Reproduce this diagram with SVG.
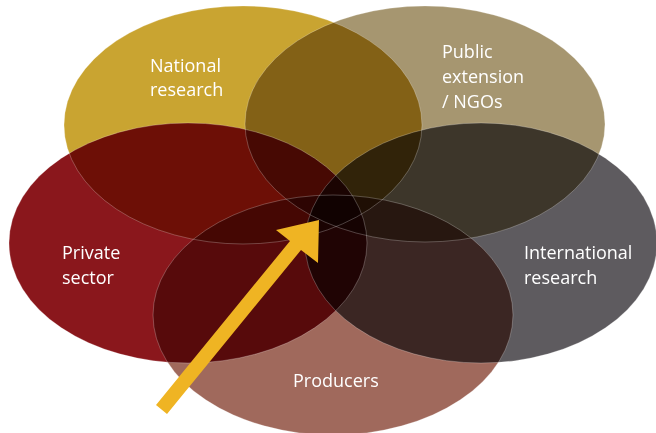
<svg xmlns="http://www.w3.org/2000/svg" width="656" height="433" viewBox="0 0 656 433">
<style>
.blob{mix-blend-mode:multiply;}
.edge{fill:none;stroke:#ffffff;stroke-opacity:0.35;stroke-width:0.7;}
.lbl{font-family:"Open Sans","Noto Sans","Liberation Sans",sans-serif;font-size:18px;fill:#ffffff;}
</style>
<rect x="0" y="0" width="656" height="433" fill="#ffffff"/>
<g id="national-research">
<ellipse class="blob" cx="243" cy="125" rx="179" ry="119" fill="#C9A431"/>
<text class="lbl" x="150" y="72">National</text>
<text class="lbl" x="150" y="96">research</text>
</g>
<g id="public-extension">
<ellipse class="blob" cx="425" cy="124" rx="180" ry="118" fill="#A69670"/>
<text class="lbl" x="442" y="58">Public</text>
<text class="lbl" x="442" y="83">extension</text>
<text class="lbl" x="442" y="108">/ NGOs</text>
</g>
<g id="private-sector">
<ellipse class="blob" cx="188" cy="243" rx="179" ry="120" fill="#8A171C"/>
<text class="lbl" x="62" y="259">Private</text>
<text class="lbl" x="62" y="284">sector</text>
</g>
<g id="international-research">
<ellipse class="blob" cx="481" cy="243" rx="176" ry="120" fill="#5E5B5F"/>
<text class="lbl" x="524" y="259">International</text>
<text class="lbl" x="524" y="284">research</text>
</g>
<g id="producers">
<ellipse class="blob" cx="333" cy="315" rx="180" ry="120" fill="#A0695C"/>
<text class="lbl" x="293" y="387">Producers</text>
</g>
<g id="outlines">
<ellipse class="edge" cx="243" cy="125" rx="179" ry="119"/>
<ellipse class="edge" cx="425" cy="124" rx="180" ry="118"/>
<ellipse class="edge" cx="188" cy="243" rx="179" ry="120"/>
<ellipse class="edge" cx="481" cy="243" rx="176" ry="120"/>
<ellipse class="edge" cx="333" cy="315" rx="180" ry="120"/>
</g>
<g id="connectors">
<polygon points="156,405 290,241 276,230 319,220 318,263 301,250 167,414" fill="#EFB423"/>
</g>
</svg>
